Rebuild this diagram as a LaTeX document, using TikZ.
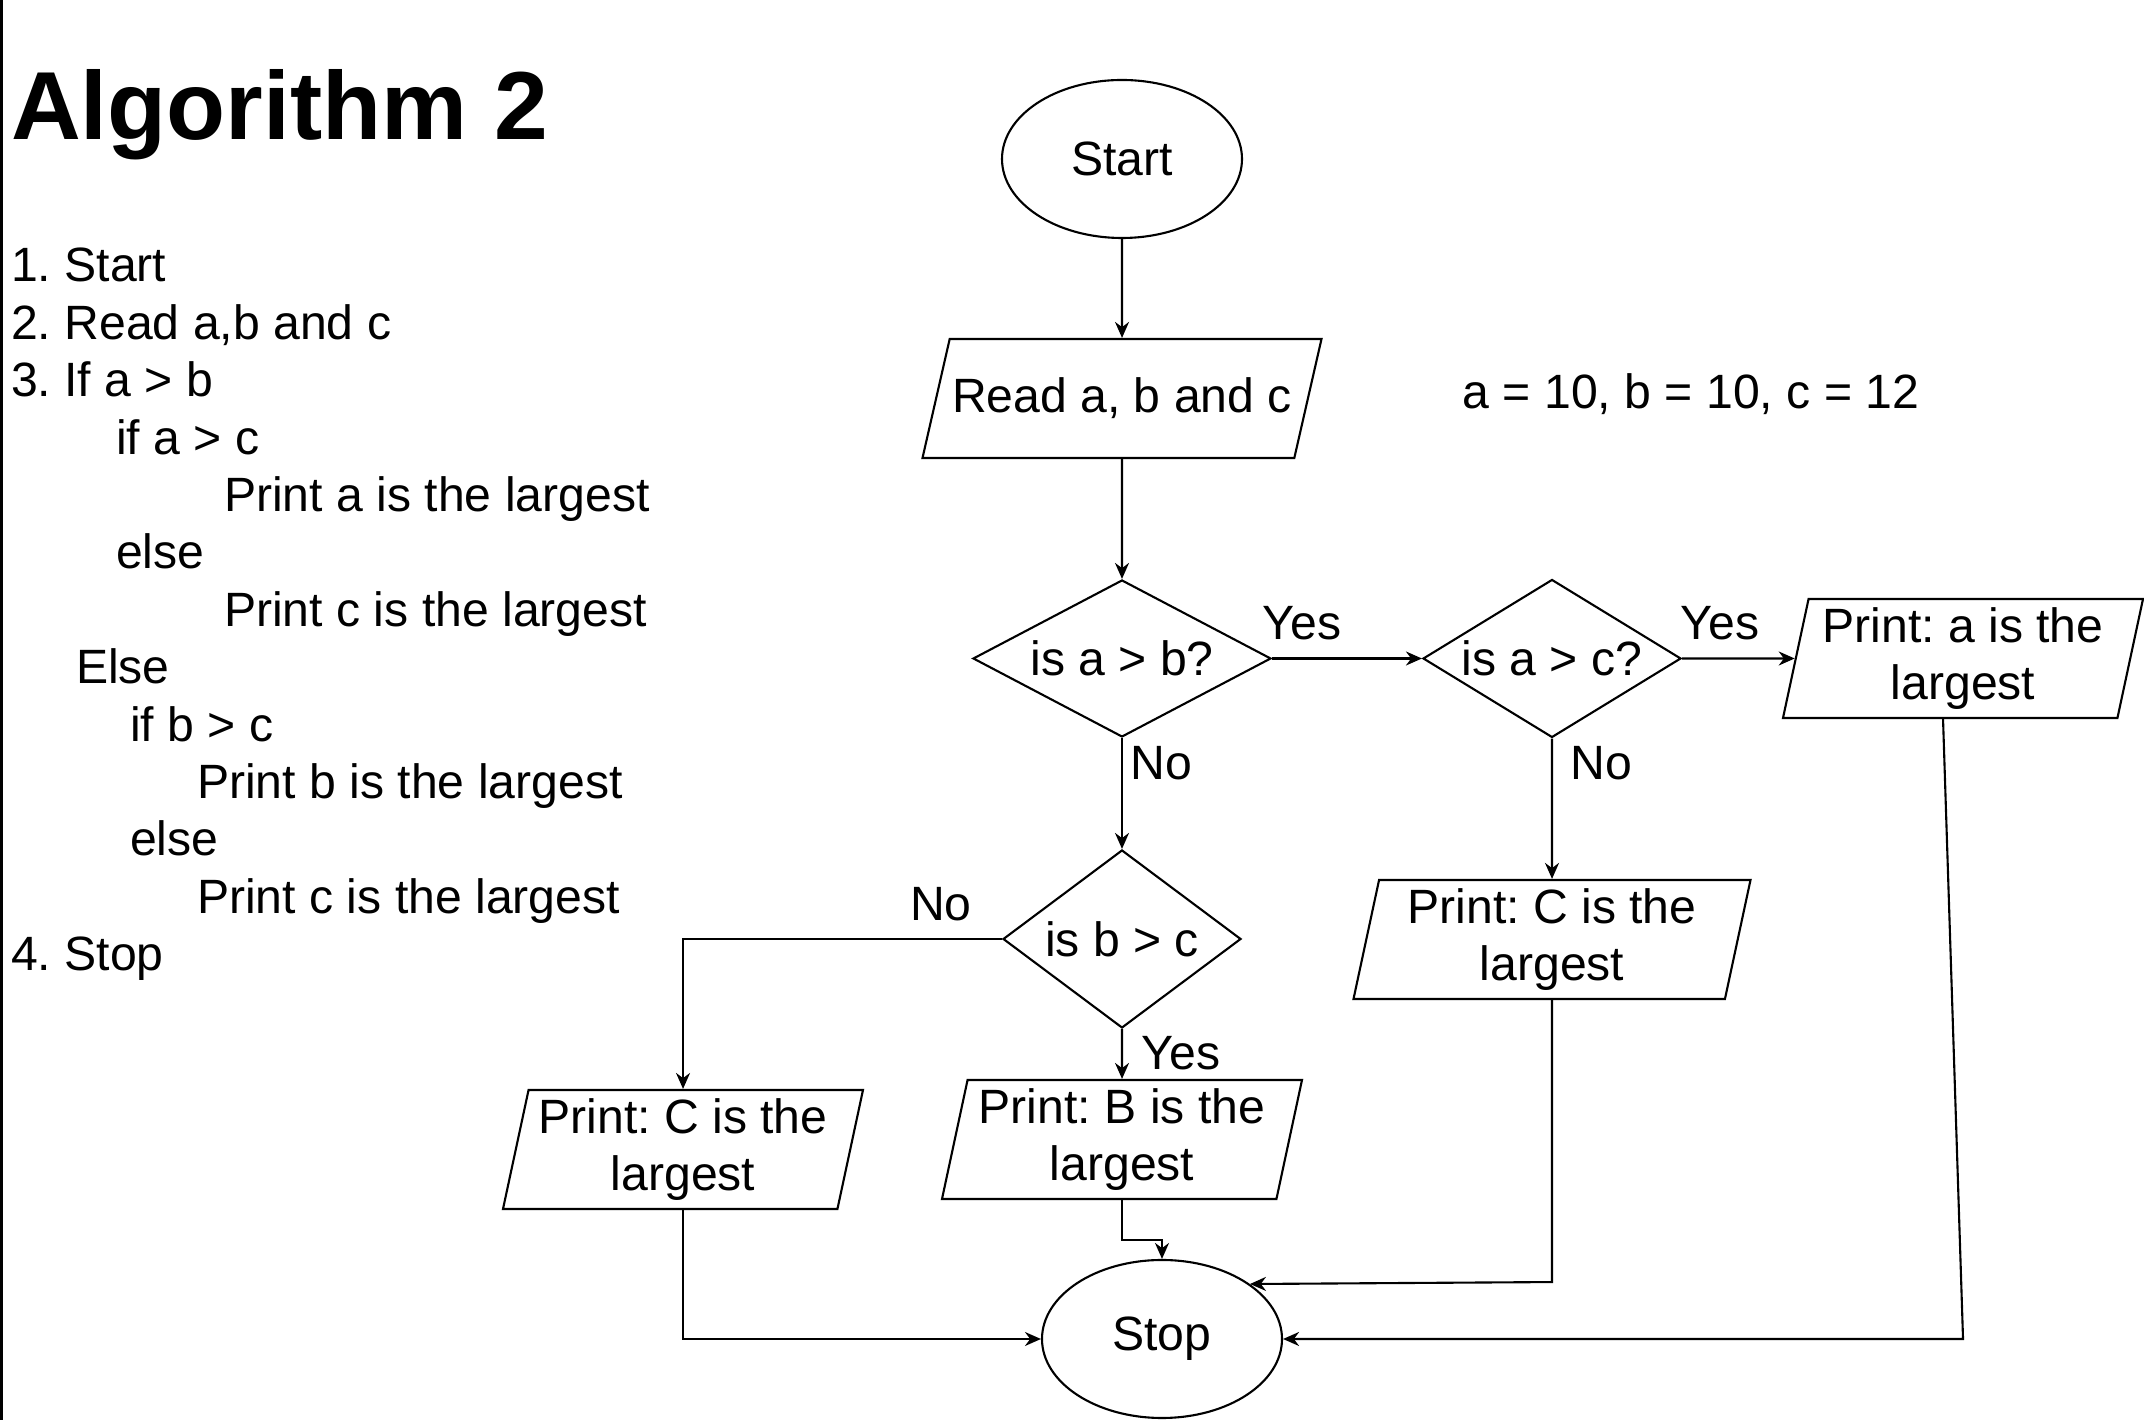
\documentclass[tikz,border=0pt]{standalone}
\usepackage{fontspec}
\setmainfont{Liberation Sans}
\usetikzlibrary{shapes.geometric,arrows.meta}
\frenchspacing

\begin{document}
\begin{tikzpicture}[line width=0.6pt, >={Stealth[length=1.6mm,width=1.4mm]},
  font=\fontsize{13.7}{16.4}\selectfont,
  terminal/.style={ellipse, draw, minimum width=2.4cm, minimum height=1.58cm, inner sep=0pt},
  decision/.style={diamond, draw, inner sep=0pt},
  io/.style={trapezium, trapezium left angle=76, trapezium right angle=104, trapezium stretches body=true,
    draw, align=center, inner sep=0pt, minimum height=1.19cm}]

\useasboundingbox (0,0) rectangle (21.44,14.2);
\draw[line width=0.8pt] (0.013,0) -- (0.013,14.2);

% algorithm text
\node[name=title, anchor=base west, inner sep=0pt, font=\fontsize{27.5}{33}\selectfont\bfseries] at (0.1,12.8) {Algorithm 2};
\foreach \ind/\txt [count=\i] in {0/{1. Start}, 0/{2. Read a,b and c}, 0/{3. If a > b},
    1.05/{if a > c}, 2.13/{Print a is the largest}, 1.05/{else}, 2.13/{Print c is the largest},
    0.65/{Else}, 1.19/{if b > c}, 1.86/{Print b is the largest}, 1.19/{else},
    1.86/{Print c is the largest}, 0/{4. Stop}}
  \node[name=line\i, anchor=base west, inner sep=0pt] at (0.1+\ind,11.954-0.574*\i) {\txt};

% flowchart
\node[name=start, terminal] at (11.22,12.61) {Start};
\node[name=read, io, inner xsep=-0.25cm, inner ysep=0.34cm, minimum width=3.99cm] at (11.22,10.215) {Read a, b and c};
\node[name=vals] at (16.91,10.26) {a = 10, b = 10, c = 12};

\node[name=isab, decision, minimum width=2.98cm, minimum height=1.57cm] at (11.22,7.615) {\makebox[0pt]{is a > b?}};
\node[name=isac, decision, minimum width=2.58cm, minimum height=1.58cm] at (15.52,7.615) {\makebox[0pt]{is a > c?}};
\node[name=pa, io, minimum width=3.6cm] at (19.63,7.615) {Print: a is the\\largest};

\node[name=isbc, decision, minimum width=2.38cm, minimum height=1.78cm] at (11.22,4.81) {\makebox[0pt]{is b > c}};
\node[name=pcr, io, minimum width=3.97cm] at (15.52,4.805) {Print: C is the\\largest};

\node[name=pcl, io, minimum width=3.6cm] at (6.83,2.705) {Print: C is the\\largest};
\node[name=pb, io, minimum width=3.6cm] at (11.22,2.805) {Print: B is the\\largest};

\node[name=stop, terminal] at (11.62,0.81) {Stop};

\node[name=yes1] at (13.02,7.97) {Yes};
\node[name=no1] at (11.61,6.57) {No};
\node[name=yes2] at (17.20,7.97) {Yes};
\node[name=no2] at (16.01,6.57) {No};
\node[name=no3] at (9.41,5.16) {No};
\node[name=yes3] at (11.81,3.67) {Yes};

\draw[->] (start) -- (read);
\draw[->] (read) -- (isab);
\draw[->] (isab) -- (isac);
\draw[->] (isac) -- (pa);
\draw[->] (isab) -- (isbc);
\draw[->] (isac) -- (pcr);
\draw[->] (isbc.west) -| (pcl.north);
\draw[->] (isbc) -- (pb);
\draw[->] (pb.south) -- ++(0,-0.4) -| (stop.north);
\draw[->] (pcl.south) |- (stop.west);
\draw[->] (pcr.south) -- ++(0,-2.82) -- (stop.32);
\draw[->] ([xshift=-2mm]pa.south) -- (pa.south |- stop.east) -- (stop.east);
\end{tikzpicture}
\end{document}
